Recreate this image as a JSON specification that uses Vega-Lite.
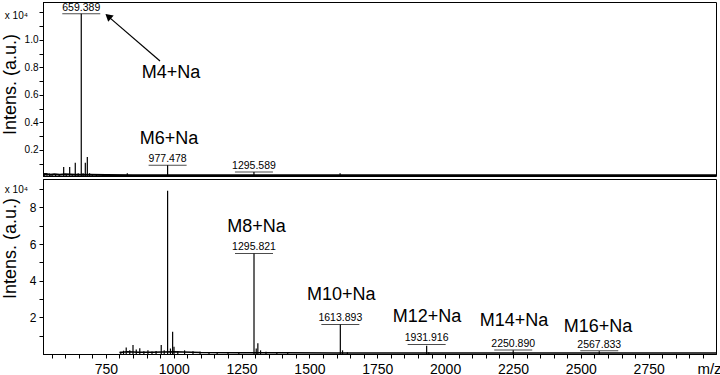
{
  "$schema": "https://vega.github.io/schema/vega-lite/v6.json",
  "padding": {"left": 0, "top": 1, "right": 0, "bottom": 0},
  "background": "white",
  "spacing": 1,
  "config": {
    "font": "Liberation Sans",
    "view": {"stroke": "black", "strokeWidth": 1},
    "axis": {"domainColor": "black", "tickColor": "black", "labelColor": "black", "titleColor": "black", "grid": false, "titleFontWeight": "normal", "labelFlush": false, "labelBound": false, "labelOverlap": false}
  },
  "vconcat": [
    {
      "width": 673,
      "height": 174,
      "resolve": {"axis": {"x": "independent", "y": "independent"}},
      "layer": [
        {
          "data": {"values": [
            {"mz": 518.4, "i": 0.022}, {"mz": 530, "i": 0.025}, {"mz": 545, "i": 0.02}, {"mz": 560, "i": 0.022}, {"mz": 580, "i": 0.02}, {"mz": 600, "i": 0.022}, {"mz": 640, "i": 0.02}, {"mz": 690, "i": 0.02}, {"mz": 750, "i": 0.017}, {"mz": 850, "i": 0.016}, {"mz": 1000, "i": 0.016}, {"mz": 1200, "i": 0.015}, {"mz": 1500, "i": 0.015}, {"mz": 1800, "i": 0.015}, {"mz": 2200, "i": 0.015}, {"mz": 2600, "i": 0.015}, {"mz": 2998, "i": 0.015}
          ]},
          "mark": {"type": "line", "color": "black", "strokeWidth": 2, "clip": true},
          "encoding": {
            "x": {"field": "mz", "type": "quantitative", "scale": {"domain": [518.4, 2998], "nice": false, "zero": false}, "axis": null},
            "y": {"field": "i", "type": "quantitative", "scale": {"domain": [0.01, 1.276], "nice": false, "zero": false},
              "axis": {"orient": "left", "values": [1.0], "format": ".1f", "tickSize": 4, "labelFontSize": 10, "labelPadding": 1, "title": "Intens. (a.u.)", "titleFontSize": 18, "titleX": -33, "titleY": 82, "titleAngle": 270, "titleAlign": "center", "titleBaseline": "middle"}}
          }
        },
        {
          "data": {"values": [
            {"mz": 524.7, "i": 0.03}, {"mz": 533, "i": 0.025}, {"mz": 543, "i": 0.028}, {"mz": 552, "i": 0.022}, {"mz": 565, "i": 0.02}, {"mz": 578, "i": 0.024}, {"mz": 594.6, "i": 0.076}, {"mz": 604, "i": 0.025}, {"mz": 616.7, "i": 0.076}, {"mz": 626, "i": 0.025}, {"mz": 637.3, "i": 0.107}, {"mz": 648, "i": 0.03}, {"mz": 659.389, "i": 1.19}, {"mz": 666, "i": 0.03}, {"mz": 674.3, "i": 0.107}, {"mz": 681.7, "i": 0.148}, {"mz": 690, "i": 0.03}, {"mz": 700, "i": 0.025}, {"mz": 715, "i": 0.022}, {"mz": 829, "i": 0.03}, {"mz": 977.478, "i": 0.088}, {"mz": 1295.589, "i": 0.039}, {"mz": 1613, "i": 0.03}
          ]},
          "mark": {"type": "rule", "color": "black", "strokeWidth": 1.2, "clip": true},
          "encoding": {
            "x": {"field": "mz", "type": "quantitative", "scale": {"domain": [518.4, 2998], "nice": false, "zero": false}, "axis": null},
            "y": {"field": "i", "type": "quantitative", "scale": {"domain": [0.01, 1.276], "nice": false, "zero": false},
              "axis": {"orient": "left", "values": [0.1, 0.3, 0.5, 0.7, 0.9, 1.1, 1.2], "labels": false, "tickSize": 4, "title": null}},
            "y2": {"datum": 0.01}
          }
        },
        {
          "data": {"values": [
            {"mz": 659.389, "u": 1.19, "label": "659.389"},
            {"mz": 977.478, "u": 0.088, "label": "977.478"},
            {"mz": 1295.589, "u": 0.039, "label": "1295.589"}
          ]},
          "layer": [
            {
              "mark": {"type": "tick", "orient": "horizontal", "size": 38, "thickness": 1, "color": "black"},
              "encoding": {
                "x": {"field": "mz", "type": "quantitative", "scale": {"domain": [518.4, 2998], "nice": false, "zero": false}, "axis": null},
                "y": {"field": "u", "type": "quantitative", "scale": {"domain": [0.01, 1.276], "nice": false, "zero": false}, "axis": null}
              }
            },
            {
              "mark": {"type": "text", "fontSize": 10.5, "align": "center", "baseline": "alphabetic", "dy": -3, "color": "black"},
              "encoding": {
                "x": {"field": "mz", "type": "quantitative", "scale": {"domain": [518.4, 2998], "nice": false, "zero": false}, "axis": null},
                "y": {"field": "u", "type": "quantitative", "scale": {"domain": [0.01, 1.276], "nice": false, "zero": false}, "axis": null},
                "text": {"field": "label"}
              }
            }
          ]
        },
        {
          "data": {"values": [
            {"mz": 990, "i": 0.723, "label": "M4+Na"},
            {"mz": 982.7, "i": 0.243, "label": "M6+Na"}
          ]},
          "mark": {"type": "text", "fontSize": 18, "align": "center", "baseline": "alphabetic", "color": "black"},
          "encoding": {
            "x": {"field": "mz", "type": "quantitative", "scale": {"domain": [518.4, 2998], "nice": false, "zero": false}, "axis": null},
            "y": {"field": "i", "type": "quantitative", "scale": {"domain": [0.01, 1.276], "nice": false, "zero": false},
              "axis": {"orient": "left", "values": [0.8], "format": ".1f", "tickSize": 4, "labelFontSize": 10, "labelPadding": 1, "title": null}},
            "text": {"field": "label"}
          }
        },
        {
          "data": {"values": [{"mz": 949.5, "i": 0.847, "mz2": 752, "i2": 1.182}]},
          "mark": {"type": "rule", "color": "black", "strokeWidth": 1.2},
          "encoding": {
            "x": {"field": "mz", "type": "quantitative", "scale": {"domain": [518.4, 2998], "nice": false, "zero": false}, "axis": null},
            "y": {"field": "i", "type": "quantitative", "scale": {"domain": [0.01, 1.276], "nice": false, "zero": false},
              "axis": {"orient": "left", "values": [0.6], "format": ".1f", "tickSize": 4, "labelFontSize": 10, "labelPadding": 1, "title": null}},
            "x2": {"field": "mz2"},
            "y2": {"field": "i2"}
          }
        },
        {
          "data": {"values": [{"mz": 762, "i": 1.166}]},
          "mark": {"type": "point", "shape": "triangle", "angle": 311, "size": 70, "filled": true, "color": "black", "opacity": 1},
          "encoding": {
            "x": {"field": "mz", "type": "quantitative", "scale": {"domain": [518.4, 2998], "nice": false, "zero": false}, "axis": null},
            "y": {"field": "i", "type": "quantitative", "scale": {"domain": [0.01, 1.276], "nice": false, "zero": false},
              "axis": {"orient": "left", "values": [0.4], "format": ".1f", "tickSize": 4, "labelFontSize": 10, "labelPadding": 1, "title": null}}
          }
        },
        {
          "data": {"values": [{"mz": 518.4, "i": 1.153, "label": "x 10⁴"}]},
          "mark": {"type": "text", "fontSize": 10, "align": "right", "baseline": "alphabetic", "dx": -15, "color": "black"},
          "encoding": {
            "x": {"field": "mz", "type": "quantitative", "scale": {"domain": [518.4, 2998], "nice": false, "zero": false}, "axis": null},
            "y": {"field": "i", "type": "quantitative", "scale": {"domain": [0.01, 1.276], "nice": false, "zero": false},
              "axis": {"orient": "left", "values": [0.2], "format": ".1f", "tickSize": 4, "labelFontSize": 10, "labelPadding": 1, "title": null}},
            "text": {"field": "label"}
          }
        }
      ]
    },
    {
      "width": 673,
      "height": 175,
      "resolve": {"axis": {"x": "independent", "y": "independent"}},
      "layer": [
        {
          "data": {"values": [
            {"mz": 800, "i": 0.08}, {"mz": 830, "i": 0.12}, {"mz": 870, "i": 0.1}, {"mz": 920, "i": 0.1}, {"mz": 1000, "i": 0.12}, {"mz": 1100, "i": 0.08}, {"mz": 1250, "i": 0.07}, {"mz": 1400, "i": 0.07}, {"mz": 1600, "i": 0.06}, {"mz": 1800, "i": 0.06}, {"mz": 2000, "i": 0.06}, {"mz": 2200, "i": 0.06}, {"mz": 2400, "i": 0.05}, {"mz": 2600, "i": 0.05}, {"mz": 2800, "i": 0.05}, {"mz": 2998, "i": 0.05}
          ]},
          "mark": {"type": "line", "color": "black", "strokeWidth": 1.5, "clip": true},
          "encoding": {
            "x": {"field": "mz", "type": "quantitative", "scale": {"domain": [518.4, 2998], "nice": false, "zero": false},
              "axis": {"orient": "bottom", "values": [750, 1000, 1250, 1500, 1750, 2000, 2250, 2500, 2750], "format": "d", "tickSize": 4, "labelPadding": 4, "labelFontSize": 14, "title": "m/z", "titleFontSize": 15, "titleX": 666, "titleY": 7, "titleAlign": "center", "titleBaseline": "top"}},
            "y": {"field": "i", "type": "quantitative", "scale": {"domain": [0, 9.55], "nice": false, "zero": false},
              "axis": {"orient": "left", "values": [2, 4, 6, 8], "format": "d", "tickSize": 4, "labelFontSize": 12, "labelPadding": 3, "title": "Intens. (a.u.)", "titleFontSize": 18, "titleX": -33, "titleY": 69, "titleAngle": 270, "titleAlign": "center", "titleBaseline": "middle"}}
          }
        },
        {
          "data": {"values": [
            {"mz": 805, "i": 0.12}, {"mz": 815, "i": 0.18}, {"mz": 825, "i": 0.36}, {"mz": 838, "i": 0.2}, {"mz": 850, "i": 0.49}, {"mz": 862, "i": 0.25}, {"mz": 875, "i": 0.32}, {"mz": 890, "i": 0.15}, {"mz": 905, "i": 0.2}, {"mz": 920, "i": 0.14}, {"mz": 935, "i": 0.16}, {"mz": 954, "i": 0.49}, {"mz": 965, "i": 0.2}, {"mz": 977.5, "i": 8.91}, {"mz": 988, "i": 0.3}, {"mz": 996, "i": 1.22}, {"mz": 1001, "i": 0.4}, {"mz": 1015, "i": 0.15}, {"mz": 1040, "i": 0.2}, {"mz": 1071, "i": 0.15}, {"mz": 1097, "i": 0.12}, {"mz": 1130, "i": 0.1}, {"mz": 1160, "i": 0.1}, {"mz": 1200, "i": 0.09}, {"mz": 1240, "i": 0.1}, {"mz": 1295.821, "i": 5.49}, {"mz": 1304, "i": 0.3}, {"mz": 1310, "i": 0.58}, {"mz": 1320, "i": 0.2}, {"mz": 1340, "i": 0.12}, {"mz": 1380, "i": 0.1}, {"mz": 1420, "i": 0.09}, {"mz": 1613.893, "i": 1.61}, {"mz": 1622, "i": 0.2}, {"mz": 1640, "i": 0.09}, {"mz": 1931.916, "i": 0.45}, {"mz": 1940, "i": 0.1}, {"mz": 2250.89, "i": 0.2}, {"mz": 2567.833, "i": 0.15}
          ]},
          "mark": {"type": "rule", "color": "black", "strokeWidth": 1.2, "clip": true},
          "encoding": {
            "x": {"field": "mz", "type": "quantitative", "scale": {"domain": [518.4, 2998], "nice": false, "zero": false},
              "axis": {"orient": "bottom", "values": [550, 600, 650, 700, 800, 850, 900, 950, 1050, 1100, 1150, 1200, 1300, 1350, 1400, 1450, 1550, 1600, 1650, 1700, 1800, 1850, 1900, 1950, 2050, 2100, 2150, 2200, 2300, 2350, 2400, 2450, 2550, 2600, 2650, 2700, 2800, 2850, 2900, 2950], "labels": false, "tickSize": 4, "title": null}},
            "y": {"field": "i", "type": "quantitative", "scale": {"domain": [0, 9.55], "nice": false, "zero": false},
              "axis": {"orient": "left", "values": [1, 3, 5, 7, 9], "labels": false, "tickSize": 4, "title": null}},
            "y2": {"datum": 0}
          }
        },
        {
          "data": {"values": [
            {"mz": 1295.821, "u": 5.49, "label": "1295.821"},
            {"mz": 1613.893, "u": 1.61, "label": "1613.893"},
            {"mz": 1931.916, "u": 0.52, "label": "1931.916"},
            {"mz": 2250.89, "u": 0.22, "label": "2250.890"},
            {"mz": 2567.833, "u": 0.18, "label": "2567.833"}
          ]},
          "layer": [
            {
              "mark": {"type": "tick", "orient": "horizontal", "size": 38, "thickness": 1, "color": "black"},
              "encoding": {
                "x": {"field": "mz", "type": "quantitative", "scale": {"domain": [518.4, 2998], "nice": false, "zero": false}, "axis": null},
                "y": {"field": "u", "type": "quantitative", "scale": {"domain": [0, 9.55], "nice": false, "zero": false}, "axis": null}
              }
            },
            {
              "mark": {"type": "text", "fontSize": 10.5, "align": "center", "baseline": "alphabetic", "dy": -3, "color": "black"},
              "encoding": {
                "x": {"field": "mz", "type": "quantitative", "scale": {"domain": [518.4, 2998], "nice": false, "zero": false}, "axis": null},
                "y": {"field": "u", "type": "quantitative", "scale": {"domain": [0, 9.55], "nice": false, "zero": false}, "axis": null},
                "text": {"field": "label"}
              }
            }
          ]
        },
        {
          "data": {"values": [
            {"mz": 1305, "i": 6.67, "label": "M8+Na"},
            {"mz": 1617, "i": 2.96, "label": "M10+Na"},
            {"mz": 1933, "i": 1.76, "label": "M12+Na"},
            {"mz": 2254, "i": 1.54, "label": "M14+Na"},
            {"mz": 2563, "i": 1.22, "label": "M16+Na"}
          ]},
          "mark": {"type": "text", "fontSize": 18, "align": "center", "baseline": "alphabetic", "color": "black"},
          "encoding": {
            "x": {"field": "mz", "type": "quantitative", "scale": {"domain": [518.4, 2998], "nice": false, "zero": false}, "axis": null},
            "y": {"field": "i", "type": "quantitative", "scale": {"domain": [0, 9.55], "nice": false, "zero": false}, "axis": null},
            "text": {"field": "label"}
          }
        },
        {
          "data": {"values": [{"mz": 518.4, "i": 8.77, "label": "x 10⁴"}]},
          "mark": {"type": "text", "fontSize": 10, "align": "right", "baseline": "alphabetic", "dx": -15, "color": "black"},
          "encoding": {
            "x": {"field": "mz", "type": "quantitative", "scale": {"domain": [518.4, 2998], "nice": false, "zero": false}, "axis": null},
            "y": {"field": "i", "type": "quantitative", "scale": {"domain": [0, 9.55], "nice": false, "zero": false}, "axis": null},
            "text": {"field": "label"}
          }
        }
      ]
    }
  ]
}
